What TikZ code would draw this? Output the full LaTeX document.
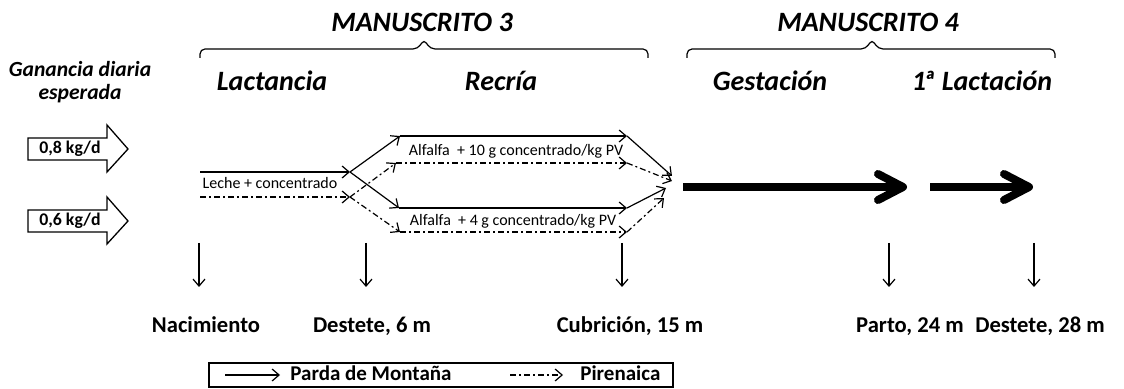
\documentclass[tikz,border=0pt]{standalone}
\usepackage{fontspec}
\setmainfont{Carlito}
\usetikzlibrary{arrows.meta}
\tikzset{every picture/.style={x=0.5pt,y=-0.5pt}}
\tikzset{phase/.style={font=\fontsize{14}{16}\selectfont\bfseries\itshape,anchor=base}}
\tikzset{gain/.style={font=\fontsize{10.8}{11.5}\selectfont\bfseries\itshape,align=center,anchor=base}}
\tikzset{rate/.style={font=\fontsize{8.9}{10}\selectfont\bfseries}}
\tikzset{diet/.style={font=\fontsize{8}{9}\selectfont}}
\tikzset{event/.style={font=\fontsize{11.3}{13}\selectfont\bfseries,anchor=base}}
\tikzset{key/.style={font=\fontsize{10.5}{12}\selectfont\bfseries,anchor=base west,inner sep=0pt}}
\tikzset{edge/.style={line width=0.6pt,-{Straight Barb[length=3.5pt,width=6pt]}}}
\tikzset{pir/.style={edge,dash pattern=on 3pt off 1.5pt on 1pt off 1.5pt}}
\tikzset{big/.style={line width=4pt,-{Straight Barb[round,length=12.5pt,width=13pt]}}}
\tikzset{mbrace/.style={line width=0.6pt,rounded corners=2.5pt}}
\tikzset{blockarrow/.style={line width=0.65pt,line join=miter}}

\begin{document}
\begin{tikzpicture}
\useasboundingbox (0,0) rectangle (1124,389);

\node [phase] (ms3) at (422,32) {MANUSCRITO 3};
\node [phase] (ms4) at (868,32) {MANUSCRITO 4};
\coordinate (b1s) at (200,58);
\coordinate (b1m) at (424,39);
\coordinate (b1e) at (648,58);
\coordinate (b2s) at (687,58);
\coordinate (b2m) at (872,39);
\coordinate (b2e) at (1055,58);
\draw [mbrace] (b1s) -- (b1s |- 0,49) -- ([xshift=-3pt]b1m |- 0,49) -- (b1m) -- ([xshift=3pt]b1m |- 0,49) -- (b1e |- 0,49) -- (b1e);
\draw [mbrace] (b2s) -- (b2s |- 0,49) -- ([xshift=-3pt]b2m |- 0,49) -- (b2m) -- ([xshift=3pt]b2m |- 0,49) -- (b2e |- 0,49) -- (b2e);

\node [gain] (gain) at (80,100) {Ganancia diaria\\esperada};
\node [phase] (lact) at (272,91) {Lactancia};
\node [phase] (recr) at (501,91) {Recría};
\node [phase] (gest) at (770,91) {Gestación};
\node [phase] (lact1) at (982,91) {1\kern-1.5ptª Lactación};

\draw [blockarrow] (28,138) -- (107,138) -- (107,125) -- (128,149) -- (107,172) -- (107,160) -- (28,160) -- cycle;
\node [rate] (r08) at (70,149) {0,8 kg/d};
\draw [blockarrow] (28,210) -- (107,210) -- (107,197) -- (128,221) -- (107,244) -- (107,232) -- (28,232) -- cycle;
\node [rate] (r06) at (70,221) {0,6 kg/d};

\coordinate (s0) at (200,172);
\coordinate (s1) at (350,172);
\coordinate (s2) at (400,136);
\coordinate (s2_) at (627,136);
\coordinate (s3) at (399,208);
\coordinate (s3_) at (627,208);
\coordinate (p0) at (200,197);
\coordinate (p1) at (350,197);
\coordinate (p2) at (396,163);
\coordinate (p2_) at (627,163);
\coordinate (p3) at (400,232);
\coordinate (p3_) at (627,232);
\coordinate (cs1) at (672,176);
\coordinate (cp1) at (672,181);
\coordinate (cs2) at (666,188);
\coordinate (cp2) at (664,198);

\draw [edge] (s0) -- (s1);
\draw [edge] (s1) -- (s2);
\draw [edge] (s2) -- (s2_);
\draw [edge] (s2_) -- (cs1);
\draw [edge] (s1) -- (s3);
\draw [edge] (s3) -- (s3_);
\draw [edge] (s3_) -- (cs2);

\draw [pir] (p0) -- (p1);
\draw [pir] (p1) -- (p2);
\draw [pir] (p2) -- (p2_);
\draw [pir] (p2_) -- (cp1);
\draw [pir] (p1) -- (p3);
\draw [pir] (p3) -- (p3_);
\draw [pir] (p3_) -- (cp2);

\node [diet] (leche) at (270,183) {Leche + concentrado};
\node [diet] (alf10) at (516,151) {Alfalfa \ + 10 g concentrado/kg PV};
\node [diet] (alf4) at (513,221) {Alfalfa \ + 4 g concentrado/kg PV};

\coordinate (g1) at (683,187);
\coordinate (g1_) at (907,187);
\coordinate (g2) at (930,187);
\coordinate (g2_) at (1033,187);
\draw [big] (g1) -- (g1_);
\draw [big] (g2) -- (g2_);

\coordinate (d1) at (199,243);
\coordinate (d2) at (366,243);
\coordinate (d3) at (622,243);
\coordinate (d4) at (889,243);
\coordinate (d5) at (1034,243);
\node [event] (e1) at (206,333) {Nacimiento};
\node [event] (e2) at (372,333) {Destete, 6 m};
\node [event] (e3) at (630,333) {Cubrición, 15 m};
\node [event] (e4) at (910,333) {Parto, 24 m};
\node [event] (e5) at (1040,333) {Destete, 28 m};
\draw [edge] (d1) -- (d1 |- 0,287);
\draw [edge] (d2) -- (d2 |- 0,287);
\draw [edge] (d3) -- (d3 |- 0,287);
\draw [edge] (d4) -- (d4 |- 0,287);
\draw [edge] (d5) -- (d5 |- 0,287);

\draw [line width=0.75pt] (209,363) rectangle (673,387);
\coordinate (k1) at (225,375);
\coordinate (k1_) at (280,375);
\coordinate (k2) at (510,375);
\coordinate (k2_) at (563,375);
\draw [edge] (k1) -- (k1_);
\draw [pir] (k2) -- (k2_);
\node [key] (kpm) at (290,381) {Parda de Montaña};
\node [key] (kpir) at (580,381) {Pirenaica};
\end{tikzpicture}
\end{document}
